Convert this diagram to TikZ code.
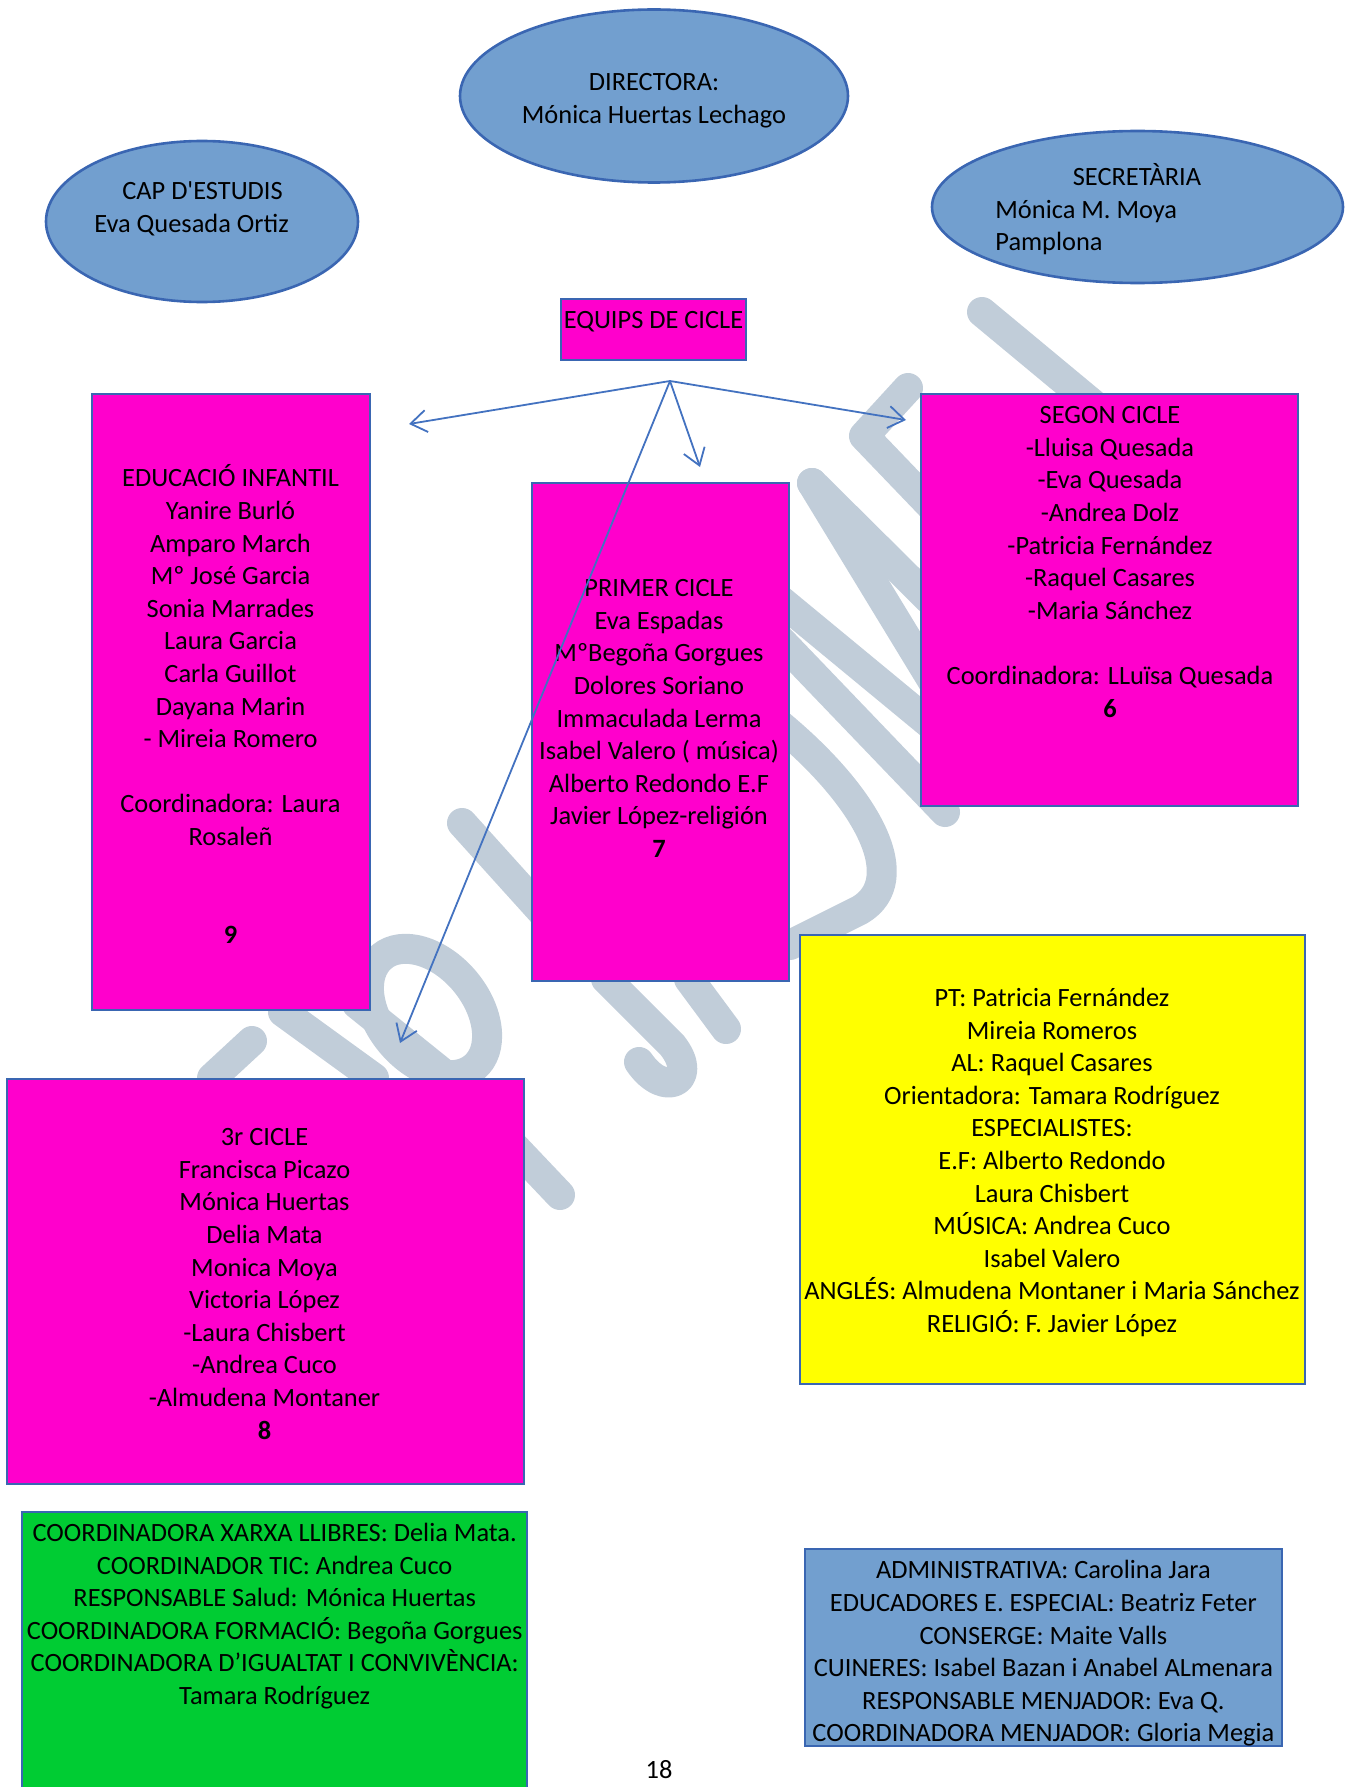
\documentclass[tikz,border=0pt]{standalone}
\usepackage{fontspec}
\setmainfont{Carlito}[Ligatures=TeXOff]
\usetikzlibrary{shapes.geometric, arrows.meta}
\definecolor{ovalblue}{HTML}{729FCF}
\definecolor{edgeblue}{HTML}{3A66B2}
\definecolor{arrowblue}{HTML}{4372C0}
\definecolor{cyclepink}{HTML}{FF00CC}
\definecolor{supyellow}{HTML}{FFFF00}
\definecolor{coordgreen}{HTML}{00CC33}
\definecolor{wmgray}{HTML}{C1CDD9}

\begin{document}
\begin{tikzpicture}[
  x=0.5pt, y=-0.5pt,
  oval/.style={ellipse, draw=edgeblue, line width=1.3pt, fill=ovalblue, inner sep=0},
  box/.style={rectangle, draw=edgeblue, line width=1pt, inner sep=0},
  txt/.style={font=\fontsize{13.2}{16.3}\selectfont, align=center, inner sep=0},
  arrowline/.style={-{Straight Barb[length=8pt, width=11pt]}, draw=arrowblue, line width=0.9pt},
  wmark/.style={line width=15pt, draw=wmgray, line cap=round, line join=round}
]
  \useasboundingbox (0,0) rectangle (1354,1787);

  % watermark
  \draw[wmark] (982,312) -- (1100,410);
  \draw[wmark] (908,388) -- (864,436) -- (935,510);
  \draw[wmark] (812,483) -- (935,605);
  \draw[wmark] (812,483) -- (935,685);
  \draw[wmark] (780,600) -- (935,728);
  \draw[wmark] (780,640) -- (945,812);
  \draw[wmark] (780,725) .. controls (870,800) and (910,880) .. (860,910) .. controls (830,925) .. (790,945);
  \draw[wmark] (462,823) -- (545,915);
  \draw[wmark] (606,979) -- (672,1045) .. controls (700,1080) and (665,1100) .. (639,1062);
  \draw[wmark] (689,979) -- (726,1029);
  \draw[wmark] (283,1012) -- (374,1078);
  \draw[wmark, rotate around={-50:(428,1012)}] (428,1012) ellipse [x radius=72, y radius=48];
  \draw[wmark] (357,1004) -- (449,1078) -- (560,1195);
  \draw[wmark] (252,1041) -- (212,1078);

  % direction
  \node[oval, minimum width=194pt, minimum height=86.5pt] (dir) at (654,96) {};
  \node[txt] (dirT) at (654,100.5) {DIRECTORA:\\Mónica Huertas Lechago};
  \node[oval, minimum width=156pt, minimum height=80.5pt] (cap) at (202,221.5) {};
  \node[txt] (capT) at (191.5,209) {\hspace*{11pt}CAP D'ESTUDIS\\Eva Quesada Ortiz};
  \node[oval, minimum width=205.5pt, minimum height=76pt] (sec) at (1137.5,207) {};
  \node[txt, align=left, anchor=west] (secT) at (995,209.5) {\hspace*{38.7pt}SECRETÀRIA\\Mónica M. Moya\\Pamplona};

  % cycle teams
  \node[box, fill=cyclepink, minimum width=92.5pt, minimum height=30.5pt] (equ) at (653.5,329.5) {};
  \node[txt] (equT) at (653.5,321.5) {EQUIPS DE CICLE};
  \coordinate (hub) at (670,381);

  \node[box, fill=cyclepink, minimum width=139pt, minimum height=308pt] (inf) at (231,702) {};
  \node[txt] (infT) at (230.5,704) {EDUCACIÓ INFANTIL\\Yanire Burló\\Amparo March\\Mº José Garcia\\Sonia Marrades\\Laura Garcia\\Carla Guillot\\Dayana Marin\\- Mireia Romero\\[16.3pt]Coordinadora: Laura\\Rosaleñ\\[32.6pt]\textbf{9}};
  \node[box, fill=cyclepink, minimum width=128.5pt, minimum height=249pt] (pri) at (660.5,732) {};
  \node[txt] (priT) at (659,718.5) {PRIMER CICLE\\Eva Espadas\\MºBegoña Gorgues\\Dolores Soriano\\Immaculada Lerma\\Isabel Valero ( música)\\Alberto Redondo E.F\\Javier López-religión\\\textbf{7}};
  \node[box, fill=cyclepink, minimum width=188.5pt, minimum height=206pt] (seg) at (1109.5,600) {};
  \node[txt] (segT) at (1110,562) {SEGON CICLE\\-Lluisa Quesada\\-Eva Quesada\\-Andrea Dolz\\-Patricia Fernández\\-Raquel Casares\\-Maria Sánchez\\[16.3pt]Coordinadora: LLuïsa Quesada\\\textbf{6}};
  \node[box, fill=cyclepink, minimum width=258.5pt, minimum height=202.5pt] (ter) at (265.5,1281.5) {};
  \node[txt] (terT) at (264.5,1284) {3r CICLE\\Francisca Picazo\\Mónica Huertas\\Delia Mata\\Monica Moya\\Victoria López\\-Laura Chisbert\\-Andrea Cuco\\-Almudena Montaner\\\textbf{8}};

  \coordinate (tipInf) at (409,424);
  \coordinate (tipPri) at (700,467);
  \coordinate (tipSeg) at (906,420);
  \coordinate (tipTer) at (400,1043);
  \draw[arrowline] (hub) -- (tipInf);
  \draw[arrowline] (hub) -- (tipPri);
  \draw[arrowline] (hub) -- (tipSeg);
  \draw[arrowline] (hub) -- (tipTer);

  % support staff
  \node[box, fill=supyellow, minimum width=252.5pt, minimum height=224.5pt] (sup) at (1052.5,1159.5) {};
  \node[txt] (supT) at (1052,1162.5) {PT: Patricia Fernández\\Mireia Romeros\\AL: Raquel Casares\\Orientadora: Tamara Rodríguez\\ESPECIALISTES:\\E.F: Alberto Redondo\\Laura Chisbert\\MÚSICA: Andrea Cuco\\Isabel Valero\\ANGLÉS: Almudena Montaner i Maria Sánchez\\RELIGIÓ: F. Javier López};

  \node[box, fill=coordgreen, minimum width=252.5pt, minimum height=149pt] (coo) at (274.5,1661) {};
  \node[txt] (cooT) at (274.7,1616) {COORDINADORA XARXA LLIBRES: Delia Mata.\\COORDINADOR TIC: Andrea Cuco\\RESPONSABLE Salud: Mónica Huertas\\COORDINADORA FORMACIÓ: Begoña Gorgues\\COORDINADORA D’IGUALTAT I CONVIVÈNCIA:\\Tamara Rodríguez};

  \node[box, fill=ovalblue, minimum width=238.5pt, minimum height=98.5pt] (adm) at (1043.5,1647.5) {};
  \node[txt] (admT) at (1043.4,1653.5) {ADMINISTRATIVA: Carolina Jara\\EDUCADORES E. ESPECIAL: Beatriz Feter\\CONSERGE: Maite Valls\\CUINERES: Isabel Bazan i Anabel ALmenara\\RESPONSABLE MENJADOR: Eva Q.\\COORDINADORA MENJADOR: Gloria Megia};

  \node[txt] (pag) at (659,1770) {18};
\end{tikzpicture}
\end{document}
